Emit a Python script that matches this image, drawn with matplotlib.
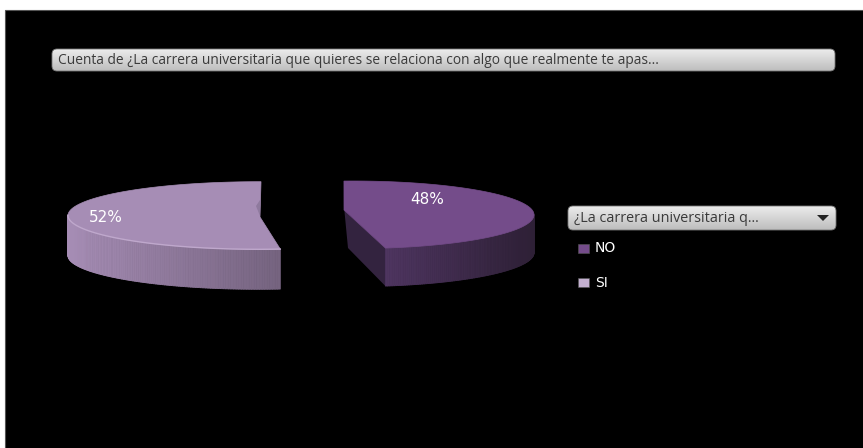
import numpy as np
import matplotlib
matplotlib.use("Agg")
import matplotlib.pyplot as plt
from matplotlib.patches import Polygon, FancyBboxPatch, Rectangle
from matplotlib.collections import PolyCollection
from matplotlib.colors import to_rgb

title = "Cuenta de ¿La carrera universitaria que quieres se relaciona con algo que realmente te apas..."
legend_title = "¿La carrera universitaria q..."
categories = ["NO", "SI"]
values = [48, 52]
labels = ["48%", "52%"]

W, H = 863, 448
plt.rcParams["font.family"] = ["Open Sans", "DejaVu Sans"]
fig = plt.figure(figsize=(W / 100, H / 100), dpi=100, facecolor="white")
ax = fig.add_axes([0, 0, 1, 1])
ax.set_xlim(0, W)
ax.set_ylim(H, 0)
ax.axis("off")

ax.add_patch(Rectangle((5, 10), W, H, fc="black", ec="#555555", lw=0.8, zorder=0))


def mix(c1, c2, f):
    a, b = np.array(to_rgb(c1)), np.array(to_rgb(c2))
    return tuple(a + (b - a) * f)


def ell(t, cx, cy, a, b):
    t = np.radians(t)
    return cx + a * np.cos(t), cy - b * np.sin(t)


def slice3d(value, t0, sign, cx, cy, a, b, apex, depth, top, side_a, side_b, inner=None, rim=None):
    span = value / sum(values) * 360
    t = np.linspace(t0, t0 + sign * span, 240)
    x, y = ell(t, cx, cy, a, b)
    front = np.sin(np.radians(t)) <= 0.02
    fx, fy = x[front], y[front]
    order = np.argsort(fx)
    fx, fy = fx[order], fy[order]
    if inner is not None:
        ex, ey = x[-1], y[-1]
        ax.add_patch(Polygon([(x[0], y[0]), apex, (ex, ey), (ex, ey + depth),
                              (apex[0] + 4, apex[1] + depth), (x[0], y[0] + 25)],
                             fc=inner, ec="none", zorder=2))
    quads, cols = [], []
    lo, hi = fx.min(), fx.max()
    for i in range(len(fx) - 1):
        quads.append([(fx[i], fy[i]), (fx[i + 1], fy[i + 1]),
                      (fx[i + 1], fy[i + 1] + depth), (fx[i], fy[i] + depth)])
        cols.append(mix(side_a, side_b, (fx[i] - lo) / (hi - lo)))
    ax.add_collection(PolyCollection(quads, facecolors=cols, edgecolors=cols, linewidths=0.6, zorder=3))
    pts = [apex] + list(zip(x, y))
    ax.add_patch(Polygon(pts, closed=True, fc=top, ec=top, lw=0.5, zorder=4))
    if rim is not None:
        ax.plot(x[front], y[front], color=rim, lw=1.0, zorder=5)


# NO slice
slice3d(values[0], 93, -1, 353.4, 214.8, 180.6, 33.8, (344, 210), 38,
        "#744C8A", "#4E3560", "#2E2036", inner="#33233F")
# SI slice
slice3d(values[1], 89.3, 1, 258.7, 215.5, 190.7, 33.8, (260, 217), 40,
        "#A68DB5", "#A68DB5", "#75637F", rim="#BFA8CC")
ax.add_patch(Polygon([(256, 206), (260, 200), (260, 216)], fc="#8F7A9E", ec="none", zorder=5))

ax.text(427, 200, labels[0], color="white", fontsize=11, ha="center", va="center", zorder=6, family="DejaVu Sans")
ax.text(106, 218, labels[1], color="white", fontsize=11, ha="center", va="center", zorder=6, family="DejaVu Sans")


def pill(x0, y0, x1, y1):
    p = FancyBboxPatch((x0, y0), x1 - x0, y1 - y0, boxstyle="round,pad=0,rounding_size=5",
                       fc="none", ec="#777777", lw=0.6, zorder=7)
    ax.add_patch(p)
    grad = np.linspace(0, 1, 64).reshape(-1, 1)
    img = np.array([mix("#ECECEC", "#BDBDBD", g) for g in grad[:, 0]]).reshape(-1, 1, 3)
    im = ax.imshow(img, extent=(x0, x1, y1, y0), aspect="auto", zorder=6.5)
    im.set_clip_path(p)


pill(52, 49, 835, 71)
ax.text(58, 60, title, color="#3A3A3A", fontsize=9.9, va="center", ha="left", zorder=8)

pill(568, 206, 836, 230)
ax.text(574, 218, legend_title, color="#3A3A3A", fontsize=10.4, va="center", ha="left", zorder=8)
ax.add_patch(Polygon([(817, 215), (829, 215), (823, 221)], fc="#222222", ec="none", zorder=8))

for name, c, yy in zip(categories, ["#744C8A", "#C4B0D0"], [248.5, 283]):
    ax.add_patch(Rectangle((578, yy - 4.5), 11, 9, fc=c, ec="#555555", lw=0.4, zorder=8))
    ax.text(595, yy, name, color="white", fontsize=10, va="center", ha="left", zorder=8,
            family="DejaVu Sans", fontweight="normal")

ax.set_xlim(0, W)
ax.set_ylim(H, 0)
fig.savefig("out.png", dpi=100, facecolor="white")
